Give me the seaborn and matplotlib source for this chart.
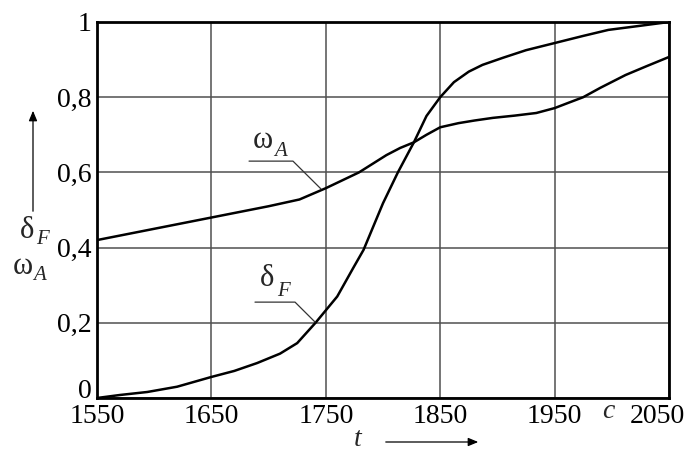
import matplotlib
matplotlib.use("Agg")
import matplotlib.pyplot as plt
import matplotlib.transforms as mtransforms
import matplotlib.patches as mpatches
import seaborn as sns
import pandas as pd

# ---- data ----
omega_years = [1550, 1575, 1600, 1625, 1650, 1675, 1700, 1727, 1750, 1779,
               1803, 1815, 1827, 1838, 1850, 1866, 1880, 1896, 1915, 1934,
               1950, 1962, 1975, 1990, 2012, 2030, 2050]
omega_vals = [0.42, 0.435, 0.45, 0.465, 0.48, 0.495, 0.51, 0.528, 0.558, 0.60,
              0.646, 0.665, 0.68, 0.70, 0.72, 0.731, 0.738, 0.745, 0.751, 0.758,
              0.771, 0.785, 0.80, 0.825, 0.859, 0.882, 0.907]

delta_years = [1550, 1570, 1594, 1620, 1650, 1670, 1690, 1710, 1725, 1741,
               1760, 1774, 1783, 1800, 1813, 1827, 1838, 1850, 1862, 1875,
               1887, 1905, 1925, 1950, 1975, 1997, 2025, 2050]
delta_vals = [0.0, 0.008, 0.016, 0.03, 0.056, 0.072, 0.093, 0.118, 0.146, 0.2,
              0.27, 0.346, 0.394, 0.518, 0.6, 0.68, 0.75, 0.80, 0.84, 0.868,
              0.886, 0.905, 0.925, 0.944, 0.963, 0.979, 0.99, 1.0]

x_ticks = [1550, 1650, 1750, 1850, 1950, 2050]
y_ticks = [0, 0.2, 0.4, 0.6, 0.8, 1.0]
y_tick_labels = ["0", "0,2", "0,4", "0,6", "0,8", "1"]

sns.set_style("white")
plt.rcParams["font.family"] = ["Liberation Serif", "DejaVu Serif"]

df = pd.concat([
    pd.DataFrame({"t": omega_years, "v": omega_vals, "s": "omega"}),
    pd.DataFrame({"t": delta_years, "v": delta_vals, "s": "delta"}),
])

W, H = 691, 451
fig = plt.figure(figsize=(W / 100, H / 100), dpi=100)
ax = fig.add_axes([97 / W, 1 - 398 / H, 572 / W, 376 / H])

sns.lineplot(data=df, x="t", y="v", units="s", estimator=None,
             color="black", lw=1.8, ax=ax, sort=False, legend=False)
for ln in ax.lines:
    ln.set_solid_joinstyle("round")

ax.set_xlim(1550, 2050)
ax.set_ylim(0, 1)
ax.set_xticks(x_ticks)
ax.set_xticklabels([str(v) for v in x_ticks])
ax.set_yticks(y_ticks)
ax.set_yticklabels(y_tick_labels)
ax.tick_params(axis="both", length=0, labelsize=20, pad=4, colors="black")
ax.set_xlabel("")
ax.set_ylabel("")
ax.grid(True, color="#505050", lw=1.1)
ax.set_axisbelow(True)
for sp in ax.spines.values():
    sp.set_visible(True)
    sp.set_color("black")
    sp.set_linewidth(2.0)

# nudge the last x label and the "0" y label as in the reference
lbl = ax.get_xticklabels()[-1]
lbl.set_transform(lbl.get_transform() +
                  mtransforms.ScaledTranslation(-0.12, 0, fig.dpi_scale_trans))
lbl0 = ax.get_yticklabels()[0]
lbl0.set_transform(lbl0.get_transform() +
                   mtransforms.ScaledTranslation(0, 0.09, fig.dpi_scale_trans))


def px(x, y):
    return x / W, 1 - y / H


def sym(main, sub, mx, my, sx, sy):
    fig.text(*px(mx, my), main, fontsize=22, ha="center", va="center")
    fig.text(*px(sx, sy), sub, fontsize=15, style="italic",
             ha="center", va="center")


# curve labels with leader lines
ax.plot([1682.9, 1721.3, 1745.8], [0.630, 0.630, 0.556], color="#333333", lw=0.9)
ax.plot([1688.1, 1723.1, 1740.6], [0.255, 0.255, 0.202], color="#333333", lw=0.9)
sym("ω", "A", 263, 141, 281, 152)
sym("δ", "F", 267, 278, 283, 291)

# left axis label with arrow
sym("δ", "F", 27, 230, 42, 240)
sym("ω", "A", 23, 267, 40, 275)
fig.add_artist(mpatches.FancyArrowPatch(
    px(33, 214), px(33, 108),
    transform=fig.transFigure, arrowstyle="-|>,head_length=6,head_width=2.5",
    color="black", lw=0.9, mutation_scale=1))

# "c" unit label on x axis
fig.text(*px(608, 412), "c", fontsize=20, style="italic", ha="center", va="center")

# bottom axis label with arrow
fig.text(*px(358, 440), "t", fontsize=20, style="italic", ha="center", va="center")
fig.add_artist(mpatches.FancyArrowPatch(
    px(383, 442), px(481, 442),
    transform=fig.transFigure, arrowstyle="-|>,head_length=6,head_width=2.5",
    color="black", lw=0.9, mutation_scale=1))

fig.savefig("out.png", dpi=100)
